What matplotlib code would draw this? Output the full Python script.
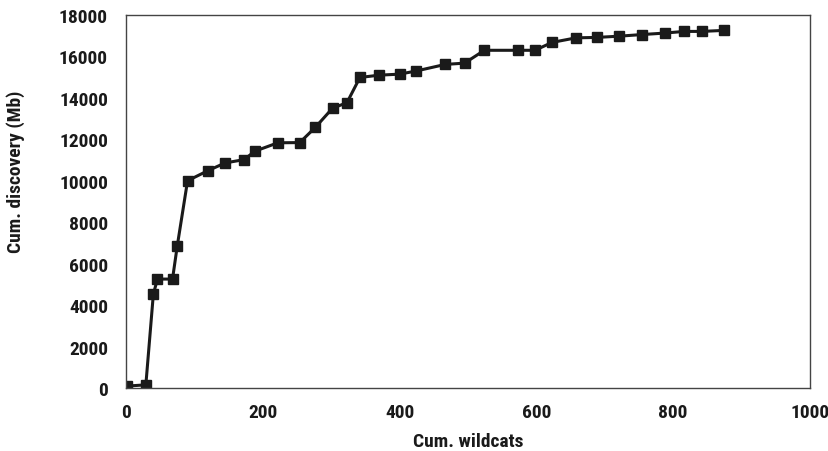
import matplotlib
matplotlib.use("Agg")
import matplotlib.pyplot as plt
from matplotlib import font_manager

wildcats = [1, 29, 40, 46, 68, 75, 90, 120, 145, 173, 188, 222, 254, 277, 302, 323,
            342, 370, 400, 424, 467, 495, 524, 573, 598, 623, 658, 688, 721, 755, 788,
            816, 842, 875]
discovery = [100, 160, 4540, 5260, 5260, 6870, 10000, 10490, 10860, 11020, 11420,
             11830, 11840, 12580, 13500, 13760, 14980, 15090, 15140, 15290, 15610,
             15670, 16290, 16290, 16290, 16670, 16890, 16910, 16970, 17050, 17120,
             17200, 17200, 17250]

names = {f.name for f in font_manager.fontManager.ttflist}
cands = ['Liberation Sans Narrow', 'DejaVu Sans Condensed', 'Roboto Condensed', 'Open Sans Condensed']
fam = [c for c in cands if c in names] + ['DejaVu Sans']
plt.rcParams['font.family'] = fam[:1] + ['DejaVu Sans']
narrow = fam[0] != 'DejaVu Sans'
fs = 14 if narrow else 11.5

fig = plt.figure(figsize=(8.29, 4.52), dpi=100)
ax = fig.add_axes([0.152, 0.139, 0.825, 0.826])
ax.plot(wildcats, discovery, color='#1a1a1a', linewidth=2.2, marker='s',
        markersize=7, markerfacecolor='#1a1a1a', markeredgecolor='#1a1a1a')
ax.set_xlim(0, 1000)
ax.set_ylim(0, 18000)
ax.set_xticks(range(0, 1001, 200))
ax.set_yticks(range(0, 18001, 2000))
ax.tick_params(axis='y', length=0, labelsize=fs, pad=13)
ax.tick_params(axis='x', length=0, labelsize=fs, pad=11)
for lab in ax.get_xticklabels() + ax.get_yticklabels():
    lab.set_fontweight('bold')
    lab.set_color('#1a1a1a')
for s in ax.spines.values():
    s.set_color('#444444')
    s.set_linewidth(1.0)
ax.set_xlabel('Cum. wildcats', fontsize=fs, fontweight='bold', color='#1a1a1a')
ax.set_ylabel('Cum. discovery (Mb)', fontsize=fs, fontweight='bold', color='#1a1a1a')
ax.xaxis.set_label_coords(0.5, -0.118)
ax.xaxis.label.set_va('top')
ax.yaxis.set_label_coords(-0.148, 0.582)
fig.savefig('out.png', dpi=100)
